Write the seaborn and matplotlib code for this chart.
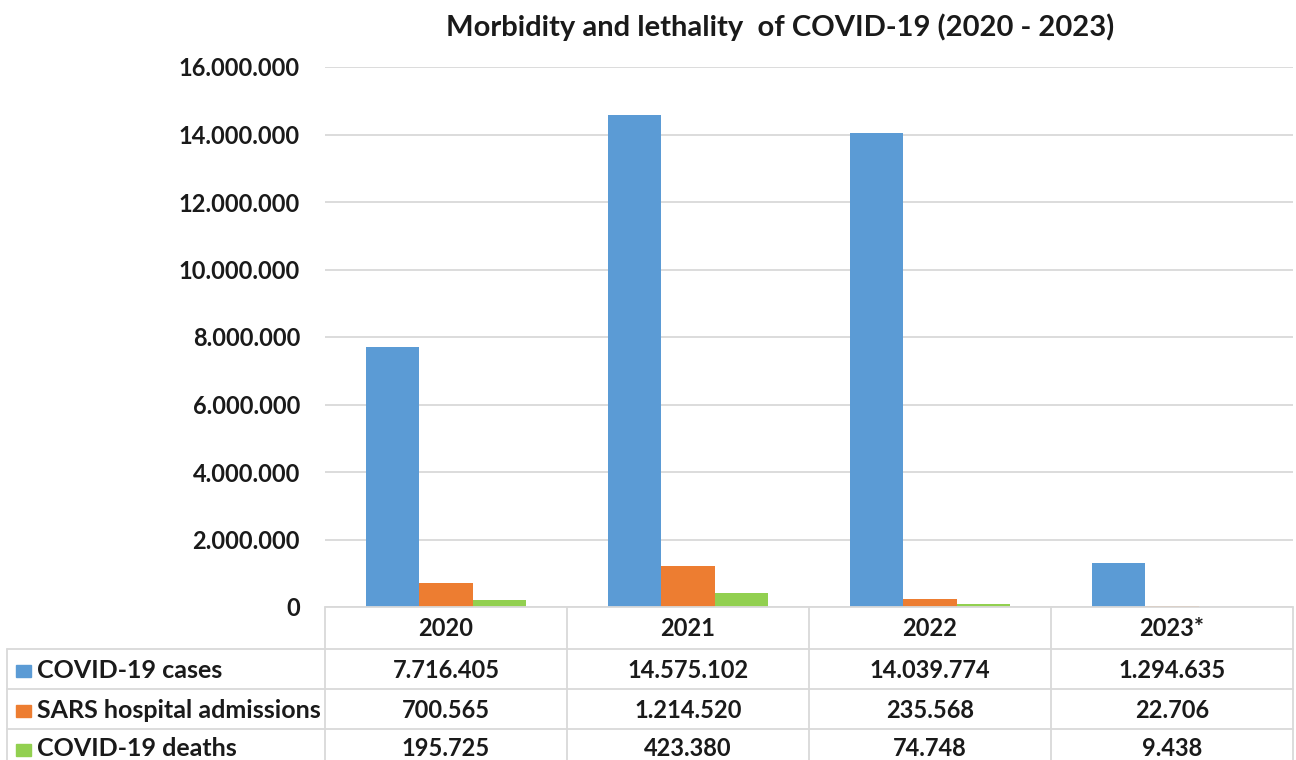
import matplotlib
matplotlib.use("Agg")
import matplotlib.pyplot as plt
import seaborn as sns
import pandas as pd
from matplotlib.lines import Line2D
from matplotlib.patches import Rectangle
from matplotlib.transforms import blended_transform_factory
from matplotlib.ticker import FuncFormatter

# Data
years = ["2020", "2021", "2022", "2023*"]
series_names = ["COVID-19 cases", "SARS hospital admissions", "COVID-19 deaths"]
covid_cases = [7716405, 14575102, 14039774, 1294635]
sars_admissions = [700565, 1214520, 235568, 22706]
covid_deaths = [195725, 423380, 74748, 9438]
y_ticks = [0, 2000000, 4000000, 6000000, 8000000, 10000000, 12000000, 14000000, 16000000]
title = "Morbidity and lethality  of COVID-19 (2020 - 2023)"

colors = ["#5B9BD5", "#ED7D31", "#92D050"]
series_values = [covid_cases, sars_admissions, covid_deaths]

df = pd.DataFrame({
    "year": [y for _ in series_names for y in years],
    "series": [s for s in series_names for _ in years],
    "value": [v for vals in series_values for v in vals],
})

sns.set_theme(style="white")
plt.rcParams["font.family"] = ["Lato", "DejaVu Sans"]
plt.rcParams["font.weight"] = "bold"

W, H = 1296, 760
fig = plt.figure(figsize=(W / 100, H / 100), dpi=100)
fig.patch.set_facecolor("white")


def fx(px):
    return px / W


def fy(py):
    return 1 - py / H


TEXT = "#1a1a1a"
GRID = "#d9d9d9"

# Plot area
top_px, base_px = 67, 607
left_px, right_px = 325, 1293
ax = fig.add_axes([fx(left_px), fy(base_px), (right_px - left_px) / W, (base_px - top_px) / H])

sns.barplot(data=df, x="year", y="value", hue="series", hue_order=series_names,
            order=years, palette=colors, width=0.665, saturation=1,
            ax=ax, legend=False, linewidth=0)

ax.set_xlim(-0.5, len(years) - 0.5)
ax.set_ylim(0, 16000000)
ax.set_yticks(y_ticks)
ax.yaxis.set_major_formatter(FuncFormatter(lambda v, p: f"{int(v):,}".replace(",", ".")))
ax.set_xticks([])
ax.set_xlabel("")
ax.set_ylabel("")
ax.grid(axis="y", color=GRID, linewidth=1.3)
ax.set_axisbelow(True)
for s in ax.spines.values():
    s.set_visible(False)
ax.tick_params(axis="y", length=0, pad=18, labelsize=17, labelcolor=TEXT)
for lab in ax.get_yticklabels():
    lab.set_fontweight("bold")

fig.text(fx(780), fy(27), title, ha="center", va="center", fontsize=21,
         fontweight="bold", color=TEXT)

# Data table below the plot
trans = blended_transform_factory(ax.transData, fig.transFigure)
row_lines = [649, 689, 729]
fig.add_artist(Line2D([fx(left_px), fx(right_px)], [fy(base_px), fy(base_px)],
                      color=GRID, lw=1.3))
for py in row_lines:
    fig.add_artist(Line2D([fx(7), fx(right_px)], [fy(py), fy(py)], color=GRID, lw=1.3))
fig.add_artist(Line2D([fx(7), fx(7)], [fy(row_lines[0]), 0], color=GRID, lw=1.3))
for b in [i - 0.5 for i in range(len(years) + 1)]:
    ax.add_artist(Line2D([b, b], [fy(base_px), 0], transform=trans, color=GRID,
                         lw=1.3, clip_on=False))

header_y = 629
row_y = [670, 710, 749]
for i, yr in enumerate(years):
    fig.text(0, 0, yr, transform=trans, ha="center", va="center", fontsize=17,
             fontweight="bold", color=TEXT).set_position((i, fy(header_y)))

for r, (name, vals, col) in enumerate(zip(series_names, series_values, colors)):
    py = row_y[r]
    fig.add_artist(Rectangle((fx(16), fy(py + 7)), 15 / W, 12 / H, color=col,
                             transform=fig.transFigure))
    fig.text(fx(37), fy(py), name, ha="left", va="center", fontsize=18,
             fontweight="bold", color=TEXT)
    for i, v in enumerate(vals):
        t = fig.text(0, 0, f"{v:,}".replace(",", "."), transform=trans,
                     ha="center", va="center", fontsize=17, fontweight="bold", color=TEXT)
        t.set_position((i, fy(py)))

fig.savefig("out.png", dpi=100, facecolor="white")
